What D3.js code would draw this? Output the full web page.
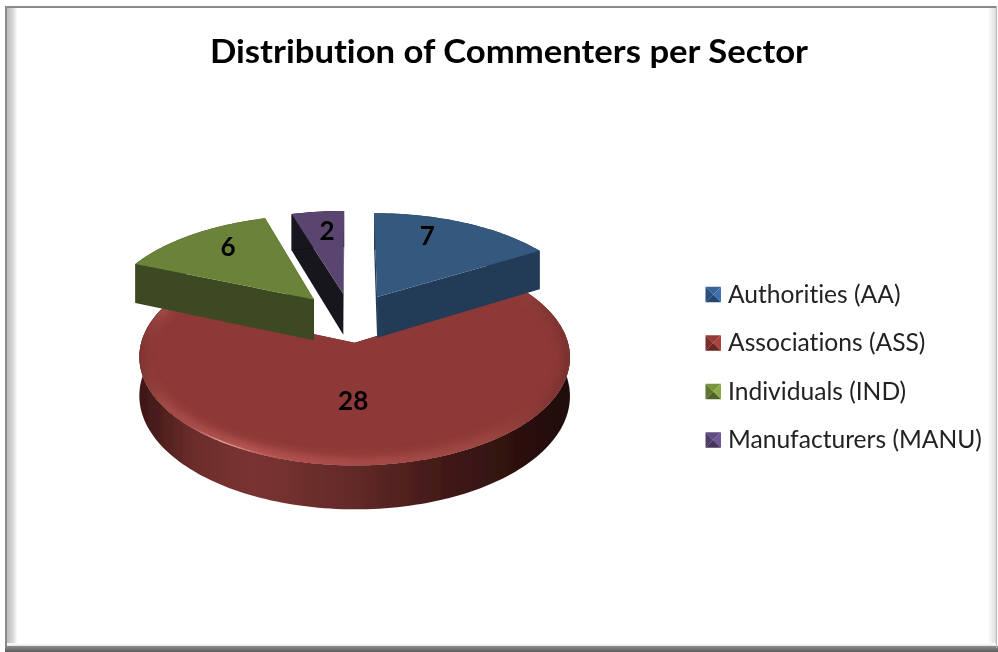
<!DOCTYPE html>
<html>
<head>
<meta charset="utf-8">
<title>Distribution of Commenters per Sector</title>
<script src="https://cdnjs.cloudflare.com/ajax/libs/d3/7.8.5/d3.min.js"></script>
<style>
  html, body { margin: 0; padding: 0; background: #fff; }
  svg { display: block; }
  text { font-variant-ligatures: none; }
</style>
</head>
<body>
<div id="chart"></div>
<script>
// data
var categories = ["Authorities (AA)", "Associations (ASS)", "Individuals (IND)", "Manufacturers (MANU)"];
var values = [7, 28, 6, 2];
var chartTitle = "Distribution of Commenters per Sector";

// colours, per category
var topColors = ["#34587f", "#8e3937", "#6b8339", "#5a4470"];
var sideColors = ["#243a57", "#6b2c2b", "#3c4820", "#17121f"];
var bevelColors = [
  ["#386599", "#2c507f", "#3f72ad", "#27466f"],
  ["#963a38", "#7a2d2b", "#aa423e", "#682523"],
  ["#7a963d", "#5f772e", "#8aa945", "#4f6326"],
  ["#624c80", "#4f3c68", "#705498", "#443458"]
];

var w = 998;
var h = 652;

// camera for the tilted pie
var cx = 351, cy = 319, radY = 100, persp = 0.13;
var radX = [211, 207, 211, 211];
var thick = [42, 37, 42, 42];
var explode = [0.26, 0.23, 0.27, 0.26];
var labelPos = [0.65, 0.5, 0.65, 0.65];
var labelShift = [[-9, -11], [-10, 2], [-4, -9], [1, -7]];

var svg = d3.select("#chart").append("svg")
  .attr("width", w)
  .attr("height", h);

var defs = svg.append("defs");

function grad(id, x1, y1, x2, y2, stops) {
  var g = defs.append("linearGradient").attr("id", id)
    .attr("gradientUnits", "userSpaceOnUse")
    .attr("x1", x1).attr("y1", y1).attr("x2", x2).attr("y2", y2);
  stops.forEach(function(s) {
    g.append("stop").attr("offset", s[0]).attr("stop-color", s[1])
      .attr("stop-opacity", s.length > 2 ? s[2] : 1);
  });
}

grad("frameLeft", 7, 0, 17, 0, [[0, "#bdbdbd"], [0.6, "#d8d8d8"], [1, "#fbfbfb"]]);
grad("frameRight", 988, 0, 996, 0, [[0, "#ffffff"], [1, "#dcdcdc"]]);
grad("frameBottom", 0, 643, 0, 647, [[0, "#ffffff"], [1, "#dedede"]]);
grad("frameEdge", 0, 646, 0, 652, [[0, "#8c8c8c"], [1, "#5e5e5e"]]);
grad("redWall", 137, 0, 571, 0, [
  [0, "#3a1514"], [0.13, "#6b2d2b"], [0.27, "#7a3331"], [0.5, "#622a28"], [0.72, "#401816"], [1, "#1f0b0a"]
]);
grad("redBevel", 137, 0, 571, 0, [
  [0, "#7a302e"], [0.06, "#a04a46"], [0.25, "#b85652"], [0.5, "#a94c48"], [0.8, "#9e4642"], [1, "#7a302e"]
]);
grad("redShine", 137, 0, 571, 0, [
  [0.12, "#e0948e", 0], [0.2, "#eaa8a2", 1], [0.27, "#d87c76", 0.6], [0.38, "#b85652", 0]
]);

var blur = defs.append("filter").attr("id", "soft")
  .attr("x", "-5%").attr("y", "-5%").attr("width", "110%").attr("height", "110%");
blur.append("feGaussianBlur").attr("stdDeviation", 4);
var blurThin = defs.append("filter").attr("id", "softer")
  .attr("x", "-5%").attr("y", "-5%").attr("width", "110%").attr("height", "110%");
blurThin.append("feGaussianBlur").attr("stdDeviation", 0.5);

// frame
svg.append("rect").attr("width", w).attr("height", h).attr("fill", "#ffffff");
svg.append("rect").attr("x", 7).attr("y", 8).attr("width", 10).attr("height", 638).attr("fill", "url(#frameLeft)");
svg.append("rect").attr("x", 988).attr("y", 8).attr("width", 8).attr("height", 638).attr("fill", "url(#frameRight)");
svg.append("rect").attr("x", 7).attr("y", 643).attr("width", 989).attr("height", 4).attr("fill", "url(#frameBottom)");
svg.append("rect").attr("x", 5).attr("y", 6).attr("width", 991).attr("height", 2).attr("fill", "#8a8a8a");
svg.append("rect").attr("x", 5).attr("y", 6).attr("width", 2).attr("height", 642).attr("fill", "#8a8a8a");
svg.append("rect").attr("x", 5).attr("y", 646).attr("width", 993).attr("height", 6).attr("fill", "url(#frameEdge)");
svg.append("rect").attr("x", 996).attr("y", 6).attr("width", 1).attr("height", 642).attr("fill", "#b8b8b8");

// title
svg.append("text")
  .attr("x", 509)
  .attr("y", 63)
  .attr("text-anchor", "middle")
  .attr("font-family", "Lato")
  .attr("font-weight", "bold")
  .attr("font-size", "33px")
  .attr("textLength", 598)
  .attr("lengthAdjust", "spacingAndGlyphs")
  .attr("fill", "#000")
  .attr("filter", "url(#softer)")
  .text(chartTitle);

// pie, angles from d3.pie, then pushed through the camera
var slices = d3.pie().sort(null)(values);

function project(a, r, d, i, level) {
  var mid = (d.startAngle + d.endAngle) / 2;
  var X = r * Math.sin(a) + explode[i] * Math.sin(mid);
  var Z = r * Math.cos(a) + explode[i] * Math.cos(mid);
  var s = 1 / (1 + persp * Z);
  return [cx + radX[i] * X * s, cy - radY * Z * s + level * thick[i] * s];
}

var line = d3.line();

function arcPoints(d, i, level) {
  var n = Math.max(8, Math.ceil((d.endAngle - d.startAngle) * 40));
  return d3.range(n + 1).map(function(j) {
    var a = d.startAngle + (d.endAngle - d.startAngle) * j / n;
    return project(a, 1, d, i, level);
  });
}

function topPath(d, i) {
  return line([project(0, 0, d, i, 0)].concat(arcPoints(d, i, 0))) + "Z";
}
function wallPath(d, i) {
  return line(arcPoints(d, i, 0).concat(arcPoints(d, i, 1).reverse())) + "Z";
}
function cutPath(d, i, a) {
  return line([
    project(0, 0, d, i, 0), project(a, 1, d, i, 0),
    project(a, 1, d, i, 1), project(0, 0, d, i, 1)
  ]) + "Z";
}

var pie = svg.append("g").attr("filter", "url(#softer)");

// big slice goes first, the others sit on top of it
[1, 0, 2, 3].forEach(function(i) {
  var d = slices[i];
  var g = pie.append("g");
  g.append("path").attr("d", cutPath(d, i, d.startAngle)).attr("fill", sideColors[i]);
  g.append("path").attr("d", cutPath(d, i, d.endAngle)).attr("fill", sideColors[i]);
  g.append("path").attr("d", wallPath(d, i)).attr("fill", i == 1 ? "url(#redWall)" : sideColors[i]);
  g.append("path").attr("d", topPath(d, i)).attr("fill", topColors[i]);

  if (i == 1) {
    defs.append("clipPath").attr("id", "redTop").append("path").attr("d", topPath(d, i));
    var bevel = g.append("g").attr("clip-path", "url(#redTop)");
    bevel.append("path")
      .attr("d", line(arcPoints(d, i, 0)))
      .attr("fill", "none")
      .attr("stroke", "url(#redBevel)")
      .attr("stroke-width", 16)
      .attr("filter", "url(#soft)");
    bevel.append("path")
      .attr("d", line(arcPoints(d, i, 0)))
      .attr("fill", "none")
      .attr("stroke", "url(#redShine)")
      .attr("stroke-width", 2.5);
  }
});

// value labels
svg.selectAll("text.value")
  .data(slices)
  .enter()
  .append("text")
  .attr("class", "value")
  .attr("x", function(d, i) {
    var mid = (d.startAngle + d.endAngle) / 2;
    return project(mid, labelPos[i], d, i, 0)[0] + labelShift[i][0];
  })
  .attr("y", function(d, i) {
    var mid = (d.startAngle + d.endAngle) / 2;
    return project(mid, labelPos[i], d, i, 0)[1] + labelShift[i][1] + 9;
  })
  .attr("text-anchor", "middle")
  .attr("font-family", "Lato")
  .attr("font-weight", "bold")
  .attr("font-size", "26px")
  .attr("fill", "#000")
  .attr("filter", "url(#softer)")
  .text(function(d) { return d.value; });

// legend
var legendY = d3.scalePoint().domain(categories).range([294.5, 440]);
var box = 15.5;

var rows = svg.selectAll("g.legend")
  .data(categories)
  .enter()
  .append("g")
  .attr("class", "legend")
  .attr("transform", function(d) { return "translate(705.5," + (legendY(d) - box / 2) + ")"; });

var facets = [
  [[0, 0], [box, 0], [box / 2, box / 2]],
  [[0, 0], [0, box], [box / 2, box / 2]],
  [[box, 0], [box, box], [box / 2, box / 2]],
  [[0, box], [box, box], [box / 2, box / 2]]
];

rows.each(function(c, i) {
  var row = d3.select(this).append("g").attr("filter", "url(#softer)");
  facets.forEach(function(f, j) {
    row.append("path").attr("d", line(f) + "Z").attr("fill", bevelColors[i][j]);
  });
});

rows.append("text")
  .attr("x", 22.5)
  .attr("y", box + 0.5)
  .attr("font-family", "Lato")
  .attr("font-size", "24.6px")
  .attr("fill", "#222")
  .attr("filter", "url(#softer)")
  .text(function(d) { return d; });
</script>
</body>
</html>
